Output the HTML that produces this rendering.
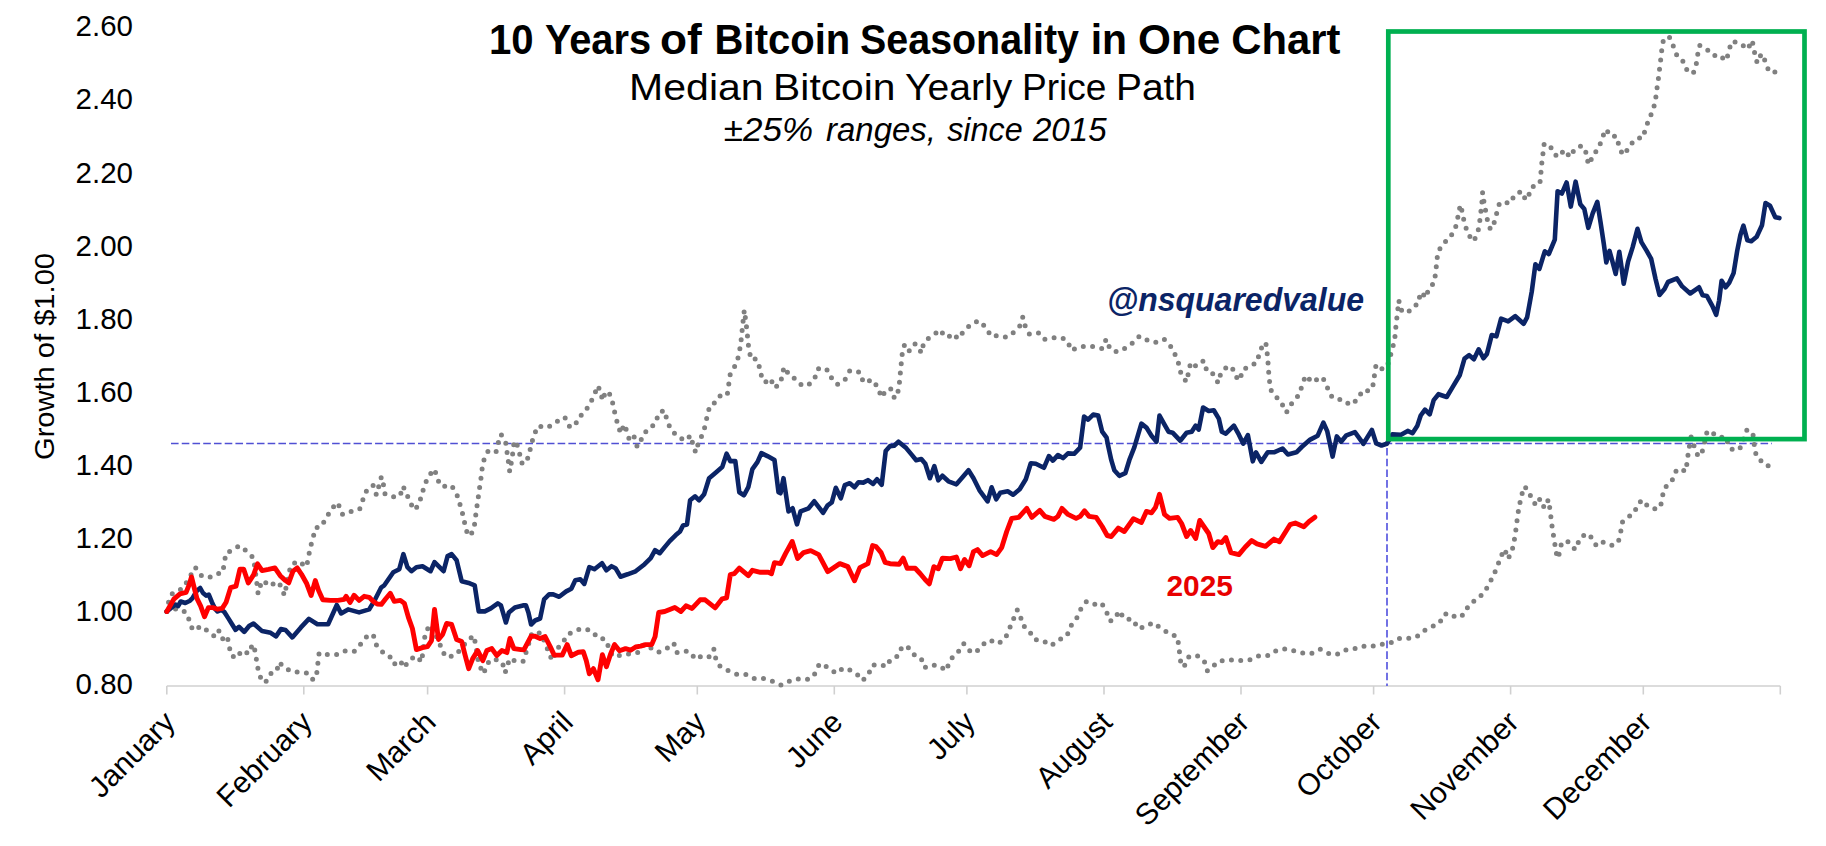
<!DOCTYPE html>
<html><head><meta charset="utf-8"><style>
html,body{margin:0;padding:0;background:#fff;width:1826px;height:846px;overflow:hidden}
svg{display:block}
text{font-family:"Liberation Sans",sans-serif;fill:#000}
.yl{font-size:29.5px}
.ml{font-size:30px}
.yt{font-size:28px}
.t1{font-size:42.5px;font-weight:bold}
.t2{font-size:37.5px}
.t3{font-size:33.5px;font-style:italic}
.t4{font-size:33px;font-weight:bold;font-style:italic;fill:#0b2466}
.t5{font-size:29px;font-weight:bold;fill:#e80000}
</style></head><body>
<svg width="1826" height="846" viewBox="0 0 1826 846">
<line x1="166.8" y1="686" x2="1780.3" y2="686" stroke="#d0d0d0" stroke-width="1.6"/>
<line x1="166.8" y1="686" x2="166.8" y2="694.5" stroke="#d0d0d0" stroke-width="1.6"/>
<line x1="303.8" y1="686" x2="303.8" y2="694.5" stroke="#d0d0d0" stroke-width="1.6"/>
<line x1="427.6" y1="686" x2="427.6" y2="694.5" stroke="#d0d0d0" stroke-width="1.6"/>
<line x1="564.6" y1="686" x2="564.6" y2="694.5" stroke="#d0d0d0" stroke-width="1.6"/>
<line x1="697.3" y1="686" x2="697.3" y2="694.5" stroke="#d0d0d0" stroke-width="1.6"/>
<line x1="834.3" y1="686" x2="834.3" y2="694.5" stroke="#d0d0d0" stroke-width="1.6"/>
<line x1="966.9" y1="686" x2="966.9" y2="694.5" stroke="#d0d0d0" stroke-width="1.6"/>
<line x1="1104.0" y1="686" x2="1104.0" y2="694.5" stroke="#d0d0d0" stroke-width="1.6"/>
<line x1="1241.0" y1="686" x2="1241.0" y2="694.5" stroke="#d0d0d0" stroke-width="1.6"/>
<line x1="1373.6" y1="686" x2="1373.6" y2="694.5" stroke="#d0d0d0" stroke-width="1.6"/>
<line x1="1510.6" y1="686" x2="1510.6" y2="694.5" stroke="#d0d0d0" stroke-width="1.6"/>
<line x1="1643.3" y1="686" x2="1643.3" y2="694.5" stroke="#d0d0d0" stroke-width="1.6"/>
<line x1="1780.3" y1="686" x2="1780.3" y2="694.5" stroke="#d0d0d0" stroke-width="1.6"/>
<text x="133" y="694.2" text-anchor="end" class="yl">0.80</text>
<text x="133" y="621.1" text-anchor="end" class="yl">1.00</text>
<text x="133" y="548.0" text-anchor="end" class="yl">1.20</text>
<text x="133" y="474.9" text-anchor="end" class="yl">1.40</text>
<text x="133" y="401.8" text-anchor="end" class="yl">1.60</text>
<text x="133" y="328.7" text-anchor="end" class="yl">1.80</text>
<text x="133" y="255.6" text-anchor="end" class="yl">2.00</text>
<text x="133" y="182.5" text-anchor="end" class="yl">2.20</text>
<text x="133" y="109.4" text-anchor="end" class="yl">2.40</text>
<text x="133" y="36.3" text-anchor="end" class="yl">2.60</text>
<text x="176.8" y="724" text-anchor="end" class="ml" transform="rotate(-45 176.8 724)">January</text>
<text x="313.8" y="724" text-anchor="end" class="ml" transform="rotate(-45 313.8 724)">February</text>
<text x="437.6" y="724" text-anchor="end" class="ml" transform="rotate(-45 437.6 724)">March</text>
<text x="574.6" y="724" text-anchor="end" class="ml" transform="rotate(-45 574.6 724)">April</text>
<text x="707.3" y="724" text-anchor="end" class="ml" transform="rotate(-45 707.3 724)">May</text>
<text x="844.3" y="724" text-anchor="end" class="ml" transform="rotate(-45 844.3 724)">June</text>
<text x="976.9" y="724" text-anchor="end" class="ml" transform="rotate(-45 976.9 724)">July</text>
<text x="1114.0" y="724" text-anchor="end" class="ml" transform="rotate(-45 1114.0 724)">August</text>
<text x="1251.0" y="724" text-anchor="end" class="ml" transform="rotate(-45 1251.0 724)">September</text>
<text x="1383.6" y="724" text-anchor="end" class="ml" transform="rotate(-45 1383.6 724)">October</text>
<text x="1520.6" y="724" text-anchor="end" class="ml" transform="rotate(-45 1520.6 724)">November</text>
<text x="1653.3" y="724" text-anchor="end" class="ml" transform="rotate(-45 1653.3 724)">December</text>
<text x="-103.5" y="0" class="yt" transform="translate(54.3 356.5) rotate(-90)" textLength="207" lengthAdjust="spacingAndGlyphs">Growth of $1.00</text>
<line x1="171" y1="443.5" x2="1772" y2="443.5" stroke="#5050d4" stroke-width="1.7" stroke-dasharray="7.6 3.14"/>
<line x1="1387" y1="448" x2="1387" y2="686" stroke="#5a5ae0" stroke-width="1.7" stroke-dasharray="7.6 3.1"/>
<polyline points="166.8,611.5 168.4,602.7 172.3,593.8 179.2,590.0 183.0,588.4 188.0,580.0 195.3,567.4 201.2,575.4 208.8,577.7 216.5,573.8 222.7,572.6 224.3,563.2 225.9,553.2 232.6,550.0 239.4,545.7 246.6,551.1 253.5,557.9 256.2,577.9 258.1,593.6 261.0,583.7 263.6,580.5 268.9,586.2 277.4,581.6 281.2,586.4 284.4,595.4 286.5,585.3 290.7,565.6 297.7,560.9 306.6,566.7 308.4,557.1 310.5,547.0 313.1,537.6 315.5,527.9 321.7,526.5 326.1,517.5 331.2,510.5 336.2,502.4 339.2,506.0 342.6,514.5 350.9,511.5 359.7,509.0 362.9,499.8 366.7,490.4 373.0,485.3 376.4,495.0 378.8,486.3 381.4,476.7 383.4,484.3 385.0,494.0 391.9,496.8 400.1,496.0 402.9,486.3 406.1,492.0 409.5,501.4 414.6,510.0 419.0,504.4 421.6,495.0 424.6,485.3 428.2,476.3 434.7,469.2 437.1,478.9 441.7,486.7 451.2,485.3 456.4,493.0 459.4,502.4 462.2,512.1 464.4,521.9 466.8,531.6 470.5,536.2 474.3,526.5 475.5,516.9 476.9,506.8 478.3,497.0 479.7,486.9 481.1,477.3 482.3,467.2 484.5,457.6 488.3,450.8 496.0,452.2 498.4,442.4 501.1,434.4 505.7,442.4 507.1,452.5 508.5,462.5 509.7,471.6 511.7,460.5 513.1,450.9 514.1,441.0 516.7,443.4 519.5,453.1 521.6,462.9 525.8,463.5 529.2,454.1 531.2,444.4 534.2,434.8 537.8,425.9 546.9,427.7 554.9,423.3 560.4,418.7 564.8,417.3 569.4,426.3 574.8,426.3 578.4,417.3 584.5,412.7 589.5,404.2 594.1,395.8 597.5,385.7 600.2,390.6 602.6,400.6 605.6,391.2 610.2,394.8 613.0,404.2 615.0,413.9 617.6,423.9 620.7,433.4 624.3,424.3 627.1,432.0 629.7,441.0 634.1,436.8 637.1,446.4 639.7,445.4 642.4,435.4 648.8,428.7 655.8,423.3 658.4,413.3 664.5,410.3 666.9,419.9 670.5,428.9 677.3,436.4 685.5,440.6 690.7,435.3 693.1,445.2 695.7,452.4 698.5,442.4 703.1,433.1 705.7,423.7 707.5,414.2 710.2,405.0 716.2,402.2 720.2,395.9 727.2,395.1 728.6,385.5 729.8,375.4 734.3,367.4 737.9,358.3 739.9,348.7 741.3,338.6 742.3,328.6 743.3,319.1 744.3,310.1 745.7,320.2 746.9,330.2 747.9,340.3 748.9,349.9 751.4,359.7 756.0,358.7 758.8,364.0 760.4,373.4 764.8,382.5 770.5,378.4 774.5,387.9 780.5,383.5 782.5,373.4 784.1,367.0 789.5,375.4 796.6,379.8 802.2,385.9 809.0,384.5 814.7,378.4 817.7,369.0 821.7,367.4 828.7,370.8 832.4,380.0 837.8,384.5 845.2,379.4 849.8,370.8 856.5,371.0 860.5,372.8 863.3,382.5 872.6,379.8 878.0,387.9 881.5,397.5 886.7,389.1 891.1,388.9 894.5,398.5 898.7,389.9 899.7,379.8 900.6,370.0 901.6,360.0 902.6,349.9 904.6,344.7 908.8,351.3 914.8,343.7 918.2,346.7 921.3,352.9 923.7,342.9 927.7,338.8 932.9,335.6 940.0,329.8 945.4,337.2 949.0,336.6 953.0,333.6 958.0,338.8 964.1,330.8 971.1,324.2 978.9,320.6 986.2,327.6 991.0,336.2 999.6,335.6 1006.7,337.2 1014.7,331.6 1020.2,325.6 1022.8,317.1 1025.4,326.8 1029.4,334.2 1039.2,332.8 1044.9,339.2 1053.9,337.8 1061.6,337.8 1067.6,340.8 1071.1,350.3 1077.5,347.8 1084.1,346.2 1093.2,346.6 1102.2,348.6 1106.2,339.2 1109.2,346.8 1113.9,351.7 1121.3,350.9 1128.7,345.6 1135.0,341.2 1139.4,336.2 1147.4,340.2 1154.9,342.6 1164.1,339.2 1171.0,346.8 1175.6,355.7 1179.0,364.7 1181.2,374.8 1186.6,381.8 1188.6,372.0 1190.7,362.3 1196.3,366.3 1203.7,360.7 1206.7,370.4 1211.4,371.6 1215.2,378.0 1218.2,383.0 1220.8,373.4 1226.8,366.9 1231.9,366.7 1235.3,376.0 1239.9,380.4 1242.3,370.7 1248.0,366.4 1256.6,363.0 1259.5,353.3 1263.1,343.8 1265.8,342.6 1267.1,352.3 1268.0,362.2 1268.7,372.2 1269.7,382.2 1271.5,391.9 1276.9,397.6 1281.8,403.7 1286.4,412.5 1290.0,405.6 1294.6,399.9 1299.2,394.5 1302.2,385.0 1305.6,375.6 1312.5,382.5 1316.9,379.5 1322.5,377.1 1326.8,386.1 1330.4,395.3 1336.5,399.6 1343.0,399.4 1350.2,405.0 1358.0,399.1 1362.5,390.2 1369.9,391.1 1373.0,385.0 1374.5,375.0 1376.0,365.0 1379.9,369.2 1386.8,367.6 1389.9,357.6 1392.6,348.1 1394.8,338.4 1395.7,328.4 1396.8,318.4 1397.9,308.8 1398.8,300.5 1401.1,310.0 1407.5,313.1 1412.9,306.3 1417.9,304.4 1420.3,293.7 1421.9,292.1 1425.5,297.8 1429.0,288.5 1434.4,282.4 1435.6,272.5 1436.8,262.3 1437.7,252.7 1442.5,244.4 1449.6,237.8 1455.0,229.5 1457.4,220.0 1459.0,210.1 1460.9,204.7 1462.6,214.8 1464.9,224.3 1468.0,234.2 1473.7,241.3 1477.9,232.1 1479.6,222.4 1480.8,212.5 1481.9,202.6 1482.6,192.4 1483.8,200.7 1485.5,210.1 1487.4,220.0 1490.4,229.5 1493.8,223.8 1496.4,214.4 1498.7,204.9 1502.7,201.4 1509.8,203.5 1515.0,194.3 1521.7,191.2 1525.7,200.0 1528.7,195.2 1531.8,187.0 1539.9,183.6 1540.8,174.2 1541.7,164.0 1542.9,154.1 1544.1,144.4 1549.6,144.4 1553.6,153.9 1559.0,156.9 1564.2,149.8 1570.1,156.9 1574.8,148.7 1581.9,145.6 1585.5,150.5 1587.4,160.5 1589.5,164.7 1592.6,155.3 1599.0,148.2 1601.8,138.5 1606.2,129.3 1610.6,136.3 1616.5,136.2 1619.0,145.9 1622.7,155.0 1627.8,149.6 1633.3,141.1 1639.0,137.9 1642.9,137.9 1645.6,128.2 1649.3,118.6 1653.2,109.8 1655.5,100.0 1656.7,90.2 1658.2,80.3 1659.4,70.2 1660.6,60.5 1661.7,50.7 1663.3,40.6 1669.1,36.5 1673.0,45.4 1676.6,54.8 1682.1,59.2 1685.6,68.8 1693.1,73.8 1696.1,65.2 1697.5,55.5 1699.6,45.4 1705.9,49.8 1710.8,50.7 1714.9,55.5 1719.7,54.8 1723.6,59.0 1726.4,60.5 1728.9,50.4 1731.7,41.3 1740.1,43.1 1747.7,49.3 1752.1,40.4 1753.9,48.4 1755.5,58.2 1757.4,62.8 1761.3,53.7 1765.8,62.2 1769.0,72.0 1777.3,72.0" fill="none" stroke="#808080" stroke-width="5" stroke-linecap="round" stroke-linejoin="round" stroke-dasharray="0 9.3"/>
<polyline points="166.8,611.5 173.5,608.8 181.5,609.5 187.3,613.8 190.0,623.4 193.0,630.4 201.5,626.1 209.2,632.2 214.2,636.0 218.4,629.9 222.2,639.1 227.1,635.7 229.1,645.6 231.0,655.2 236.3,658.3 242.2,650.3 248.8,653.7 252.6,644.2 254.9,650.3 256.5,660.2 258.2,670.0 261.1,679.1 265.3,682.8 270.6,673.6 276.6,671.5 279.1,662.1 283.8,667.2 291.9,671.9 301.5,672.3 307.9,673.2 313.2,680.0 316.8,672.8 317.9,663.0 319.1,653.0 327.4,654.5 337.0,654.6 346.0,650.6 354.5,651.2 361.2,643.6 367.2,636.1 373.2,634.5 375.8,644.2 381.3,651.2 389.3,655.6 393.9,664.3 400.0,660.3 404.0,667.7 409.4,659.6 416.8,656.2 421.5,662.1 422.9,652.2 424.1,641.6 425.5,632.1 430.5,624.5 439.5,642.6 442.2,651.6 447.6,657.6 456.2,654.6 466.7,641.6 473.7,635.5 475.7,644.6 478.7,664.3 483.8,673.7 486.8,663.7 493.8,658.6 502.5,662.7 504.9,672.7 506.9,668.7 509.3,658.6 517.3,661.7 523.4,661.1 526.6,650.6 532.1,632.6 541.1,633.2 552.2,660.7 557.2,649.0 562.6,642.6 568.2,634.2 575.9,630.2 583.9,628.5 592.4,631.2 598.0,638.2 604.8,639.0 609.0,647.6 612.5,656.3 624.5,654.7 638.2,652.3 644.2,644.0 658.3,652.3 667.1,648.2 673.8,643.0 676.8,652.7 683.2,651.1 689.8,651.7 695.5,659.3 703.0,655.2 709.5,656.9 714.0,649.0 715.9,659.2 720.0,666.2 728.4,670.8 737.5,674.5 746.3,674.5 754.5,678.6 764.1,678.6 773.4,681.5 781.3,685.1 790.0,681.0 799.4,678.6 808.8,679.4 815.5,673.1 819.4,663.8 828.1,667.4 836.0,673.3 843.4,667.9 849.0,669.5 856.9,674.0 862.6,680.5 868.4,674.5 872.2,665.1 880.7,664.6 886.5,666.6 890.6,659.2 898.3,655.9 902.1,646.5 907.5,646.5 913.6,654.4 921.0,658.0 924.7,667.6 931.3,664.9 939.9,665.9 946.1,670.7 949.4,662.1 953.5,655.6 958.4,651.5 963.7,643.6 968.3,650.1 975.5,652.8 981.7,645.4 989.5,640.0 998.5,643.7 1005.6,637.6 1009.5,628.5 1013.4,619.3 1017.3,609.9 1020.2,614.7 1022.2,624.5 1029.3,631.1 1034.5,639.6 1042.7,640.5 1051.1,645.7 1058.5,640.2 1067.0,635.7 1070.6,626.2 1076.5,618.6 1080.6,609.5 1086.5,601.5 1093.6,604.4 1101.4,602.8 1106.4,611.5 1109.9,621.0 1114.2,619.4 1119.4,610.8 1124.2,619.0 1133.4,619.7 1137.6,628.4 1146.7,626.4 1152.8,622.5 1161.0,628.1 1169.2,633.6 1177.5,636.8 1178.8,646.7 1180.1,656.7 1181.2,666.5 1184.7,665.4 1189.0,656.5 1197.2,655.8 1204.3,661.3 1207.2,670.8 1210.8,669.1 1217.3,661.7 1223.8,660.4 1231.9,660.0 1241.4,660.6 1250.7,659.6 1259.3,655.7 1269.1,655.4 1276.5,650.5 1286.5,648.7 1296.0,651.3 1305.5,653.7 1312.5,653.1 1320.3,649.3 1329.1,653.7 1336.3,654.8 1344.7,650.2 1354.5,648.7 1362.3,646.1 1370.8,646.6 1379.9,644.4 1389.6,643.5 1397.9,638.5 1407.3,638.5 1416.5,636.9 1423.0,631.3 1430.9,627.2 1439.4,623.2 1444.4,614.2 1449.5,613.1 1456.3,617.8 1464.1,614.4 1468.6,605.4 1476.0,599.6 1483.9,593.1 1488.8,584.6 1493.3,575.6 1497.4,566.6 1500.5,556.9 1505.0,549.1 1507.5,558.7 1510.8,554.7 1513.5,545.2 1515.1,535.1 1516.5,525.5 1517.6,515.6 1519.4,505.5 1521.4,495.8 1524.3,486.4 1528.8,490.9 1532.0,500.3 1536.5,505.5 1540.0,498.8 1544.3,507.7 1548.4,499.6 1549.9,508.9 1551.1,518.7 1552.4,528.9 1554.0,538.5 1555.5,548.2 1557.3,558.3 1558.9,554.9 1561.2,544.8 1566.8,540.3 1573.1,547.9 1576.4,549.3 1579.1,539.6 1586.1,533.3 1591.5,537.4 1596.6,546.2 1603.3,542.1 1612.5,545.6 1618.4,541.6 1620.7,532.0 1622.4,522.1 1628.7,516.7 1634.3,512.8 1637.9,503.6 1642.8,500.1 1648.2,507.0 1656.5,509.3 1660.6,506.6 1662.2,496.9 1665.0,487.5 1671.9,480.9 1675.5,471.5 1679.9,468.2 1685.7,471.5 1687.2,461.8 1688.4,451.7 1691.1,437.0 1694.3,446.7 1698.2,456.5 1701.7,453.4 1704.4,444.0 1706.1,433.9 1708.8,430.4 1719.1,437.5 1726.2,437.0 1728.8,446.7 1733.6,450.2 1739.8,448.7 1746.9,430.0 1752.8,432.7 1754.0,442.8 1755.4,452.6 1758.1,459.3 1763.4,461.8 1767.0,465.9 1774.4,465.5" fill="none" stroke="#808080" stroke-width="5" stroke-linecap="round" stroke-linejoin="round" stroke-dasharray="0 9.3"/>
<polyline points="166.8,611.5 175.4,604.5 178.1,606.1 180.7,601.5 185.3,603.0 190.0,600.7 192.3,598.4 196.9,590.7 200.2,588.0 203.0,593.0 206.1,595.6 208.8,594.6 211.9,602.2 215.3,609.2 217.6,611.5 221.4,609.9 224.5,612.2 228.4,618.4 232.2,624.5 235.6,629.9 239.1,626.8 244.2,631.9 249.1,626.1 253.5,623.5 262.1,631.1 270.6,632.8 276.0,636.4 280.9,629.1 285.5,630.0 292.3,637.4 300.9,627.4 308.9,618.9 317.4,624.3 328.1,624.3 336.8,605.0 341.1,613.4 348.1,609.4 359.1,612.4 369.2,609.4 375.2,599.3 381.3,587.3 384.3,585.3 393.3,572.2 399.3,569.2 403.4,554.1 407.4,567.2 411.4,571.2 416.4,567.2 422.5,566.2 430.5,571.2 434.5,562.2 439.5,567.2 443.6,571.2 447.6,556.1 451.6,554.1 456.6,560.2 461.7,581.3 469.7,583.3 474.7,585.3 478.7,611.4 484.8,611.4 490.8,608.4 497.8,603.4 500.9,605.4 505.9,622.5 508.9,612.4 514.9,607.4 523.0,605.4 526.0,605.4 528.4,612.5 531.1,624.5 535.1,620.5 540.1,618.5 544.1,599.4 549.1,594.4 553.2,594.4 559.2,596.8 566.2,591.4 571.3,588.7 575.3,580.3 580.3,579.3 584.3,583.9 589.3,567.2 594.4,569.2 602.0,563.2 606.4,570.3 611.5,566.2 615.5,568.2 620.5,576.7 627.5,574.3 635.6,571.3 644.6,564.2 650.7,558.2 655.1,550.2 659.7,553.2 664.7,547.1 669.7,541.1 675.8,535.1 680.0,531.5 683.0,525.4 687.0,524.4 690.1,500.3 695.1,496.3 699.1,500.3 704.1,494.3 709.1,478.2 716.2,472.2 722.2,467.1 726.6,453.7 730.3,461.1 735.3,461.1 739.3,492.3 743.9,495.3 748.3,487.2 752.4,469.1 757.4,462.1 761.4,453.1 767.4,456.1 774.5,460.1 778.5,492.3 780.5,493.3 783.5,478.2 788.5,511.4 792.6,508.3 797.0,524.4 800.6,511.4 808.6,508.3 814.3,501.3 823.1,512.8 827.7,505.3 831.8,502.3 835.8,487.8 840.8,498.3 844.8,485.2 849.8,483.2 854.5,487.2 858.5,482.2 863.3,482.6 867.9,480.2 873.0,483.9 877.0,479.2 881.7,484.7 885.7,451.1 890.1,446.1 894.1,445.7 898.5,441.7 906.2,448.1 911.2,454.1 916.2,460.2 921.3,459.1 925.3,463.8 929.9,478.2 934.3,466.2 938.3,480.3 942.4,475.8 948.4,481.3 956.4,484.3 962.5,477.2 968.5,470.2 973.5,478.2 979.5,490.3 987.6,501.4 991.6,487.3 996.2,499.3 1000.3,492.7 1007.7,491.3 1013.1,494.7 1019.7,489.3 1025.8,479.2 1030.8,463.2 1035.8,463.8 1043.9,467.8 1048.9,456.1 1052.9,460.6 1057.9,455.1 1063.0,458.1 1068.0,453.4 1074.1,453.8 1080.1,447.7 1084.1,416.6 1088.1,419.6 1093.2,414.6 1098.2,415.6 1102.2,431.7 1106.6,437.7 1108.2,446.1 1111.3,460.2 1114.3,470.2 1119.3,475.8 1125.3,473.2 1129.3,460.2 1134.4,447.1 1141.4,423.6 1146.4,427.6 1151.5,435.7 1156.5,441.7 1159.5,415.6 1164.5,424.6 1168.5,431.7 1172.6,432.7 1180.2,440.7 1186.6,432.7 1191.7,431.7 1195.7,425.6 1198.7,429.6 1203.1,407.5 1208.7,411.0 1213.8,410.2 1218.8,418.6 1221.8,431.7 1225.8,433.7 1233.9,425.6 1238.9,434.7 1243.3,443.7 1247.9,435.1 1252.8,461.3 1256.0,452.3 1261.3,461.9 1267.7,452.3 1274.0,452.3 1282.6,448.5 1287.9,454.5 1296.4,452.3 1301.7,447.0 1310.2,439.6 1317.7,435.7 1323.4,422.6 1327.2,431.1 1332.6,456.6 1336.8,436.4 1341.1,441.7 1346.4,435.3 1354.9,432.1 1363.4,443.8 1371.9,430.0 1376.2,443.4 1381.5,445.5 1386.8,443.8 1392.4,434.4 1400.6,434.9 1407.7,430.9 1412.5,433.2 1417.2,426.1 1420.7,415.5 1425.0,409.6 1429.7,414.3 1433.7,400.1 1438.5,394.2 1446.7,397.0 1452.6,387.1 1459.7,375.3 1464.5,358.7 1469.2,355.2 1473.9,359.2 1478.7,349.3 1483.4,358.3 1486.9,354.0 1491.7,335.1 1496.4,336.3 1501.1,318.6 1508.2,321.4 1515.3,316.2 1523.6,323.8 1527.1,317.4 1531.8,291.4 1535.4,264.2 1539.4,268.9 1544.8,251.3 1548.8,254.0 1554.8,239.7 1557.6,191.2 1561.8,193.6 1566.6,182.5 1570.8,206.6 1575.6,181.7 1580.3,204.2 1584.3,208.9 1588.3,227.8 1592.6,213.7 1597.3,201.8 1600.6,222.6 1603.8,243.8 1606.3,262.4 1609.5,250.9 1612.2,260.7 1615.7,274.0 1619.3,251.8 1621.0,263.3 1623.7,283.7 1628.1,261.6 1632.6,247.4 1637.5,228.8 1641.4,242.1 1646.7,250.9 1651.2,258.9 1655.6,279.3 1659.5,294.9 1664.5,289.0 1668.0,282.0 1676.9,278.4 1682.2,286.4 1690.2,293.5 1699.0,287.3 1702.6,295.2 1707.0,296.1 1712.3,305.9 1716.2,314.8 1719.1,300.6 1721.6,280.7 1725.6,287.3 1729.2,282.8 1733.6,273.1 1737.2,250.9 1740.4,235.0 1743.4,225.7 1747.4,240.3 1751.3,241.2 1756.7,236.7 1762.0,225.2 1765.5,203.0 1770.0,205.7 1775.3,217.2 1779.4,218.1" fill="none" stroke="#0b2466" stroke-width="4.6" stroke-linejoin="round" stroke-linecap="round"/>
<polyline points="166.8,611.5 173.8,599.2 180.0,593.8 186.1,592.3 189.2,584.6 191.5,576.9 193.8,586.1 196.9,598.4 200.7,606.1 204.5,616.8 208.4,607.6 213.0,607.6 217.6,609.2 222.2,608.4 226.1,602.2 230.7,587.6 236.0,586.1 239.9,569.2 243.7,569.2 248.3,583.0 253.7,574.6 257.5,563.8 262.1,570.6 268.5,569.4 274.9,567.9 280.2,575.7 285.5,580.6 288.7,582.8 293.0,571.1 297.2,567.9 301.5,574.3 306.8,583.8 311.1,595.5 315.3,580.6 318.5,590.2 322.8,599.8 330.2,600.4 338.0,600.4 344.1,599.3 346.1,596.3 350.1,602.4 354.1,595.3 359.1,600.4 364.2,596.3 369.2,597.3 373.2,601.4 377.2,604.0 381.3,604.4 385.3,599.3 390.3,593.3 394.3,601.4 400.4,600.4 404.4,603.4 408.4,617.4 412.4,628.5 416.4,649.6 422.5,647.6 427.5,646.6 431.5,640.6 434.5,609.4 438.5,639.5 442.6,634.5 446.6,623.5 451.6,624.5 456.6,639.5 461.7,641.6 464.7,653.6 468.7,668.7 472.7,658.6 477.7,650.6 482.8,660.7 486.8,650.6 491.8,648.6 496.8,655.6 501.9,650.6 506.9,652.6 509.9,638.5 513.9,648.6 521.0,649.6 524.0,649.7 531.1,636.2 535.1,636.2 540.1,638.6 545.1,636.6 550.2,646.6 554.2,655.1 562.2,655.1 567.2,644.6 571.3,655.7 578.3,652.3 583.3,651.7 586.3,660.7 589.3,673.8 593.4,668.7 598.0,679.8 602.4,654.7 606.4,666.7 610.5,654.3 614.5,644.6 619.5,650.7 625.5,648.6 630.6,650.2 635.6,647.0 640.6,646.2 645.6,644.6 651.7,644.6 655.1,636.6 658.7,612.5 664.7,611.5 674.8,607.4 680.8,611.5 686.0,605.8 692.1,608.4 700.1,599.8 705.1,599.8 715.2,607.8 722.2,598.8 726.6,597.8 730.3,574.7 734.3,573.7 739.3,568.2 748.3,575.7 752.4,570.3 760.4,572.3 768.4,572.3 771.5,573.7 774.5,562.6 780.5,563.6 785.5,553.6 792.2,541.5 797.6,558.6 803.6,552.6 810.7,550.6 818.7,554.6 827.7,571.7 839.8,563.6 847.8,566.6 854.5,580.7 859.9,567.6 867.9,563.6 872.6,545.5 876.0,546.5 881.1,552.6 885.1,562.3 890.1,563.7 899.1,564.3 903.2,558.2 907.2,568.3 915.2,568.3 920.3,573.7 925.3,579.7 929.3,583.8 933.9,566.7 938.3,568.7 942.4,558.2 950.4,558.6 956.4,557.0 960.5,568.7 964.5,559.6 969.1,565.7 973.5,551.6 977.5,549.6 982.6,555.6 990.6,551.6 996.6,554.6 1001.7,547.6 1006.7,531.5 1011.7,518.4 1018.7,517.4 1026.8,508.4 1031.8,517.4 1039.8,510.4 1044.9,516.4 1053.9,519.4 1057.9,516.4 1062.0,508.4 1068.0,514.4 1076.1,518.4 1080.1,516.4 1084.5,510.8 1089.1,516.4 1096.2,517.4 1102.2,526.5 1107.2,535.5 1111.3,536.5 1118.3,528.1 1124.3,531.5 1133.4,518.8 1141.4,522.5 1146.4,511.4 1151.5,512.8 1155.5,507.4 1159.5,494.3 1164.5,514.4 1169.5,518.4 1177.6,517.4 1181.6,523.5 1186.6,536.5 1190.7,530.5 1195.7,538.5 1199.7,520.5 1208.7,533.5 1212.8,547.6 1217.8,541.6 1221.8,542.6 1225.8,537.5 1230.9,552.6 1238.9,554.6 1245.3,547.0 1251.7,540.6 1257.0,543.8 1265.5,546.4 1274.0,539.1 1279.4,541.7 1290.0,524.7 1295.3,523.0 1303.8,526.8 1309.1,521.5 1314.9,517.2" fill="none" stroke="#ff0000" stroke-width="4.9" stroke-linejoin="round" stroke-linecap="round"/>
<text x="489.01" y="54.2" class="t1" textLength="44.63" lengthAdjust="spacingAndGlyphs">10</text>
<text x="544.9" y="54.2" class="t1" textLength="106.23" lengthAdjust="spacingAndGlyphs">Years</text>
<text x="660.06" y="54.2" class="t1" textLength="41.76" lengthAdjust="spacingAndGlyphs">of</text>
<text x="714.62" y="54.2" class="t1" textLength="135.63" lengthAdjust="spacingAndGlyphs">Bitcoin</text>
<text x="860.07" y="54.2" class="t1" textLength="218.89" lengthAdjust="spacingAndGlyphs">Seasonality</text>
<text x="1090.68" y="54.2" class="t1" textLength="36.31" lengthAdjust="spacingAndGlyphs">in</text>
<text x="1138.11" y="54.2" class="t1" textLength="82.23" lengthAdjust="spacingAndGlyphs">One</text>
<text x="1231.32" y="54.2" class="t1" textLength="109.03" lengthAdjust="spacingAndGlyphs">Chart</text>
<text x="629.12" y="99.8" class="t2" textLength="134.51" lengthAdjust="spacingAndGlyphs">Median</text>
<text x="773.14" y="99.8" class="t2" textLength="122.38" lengthAdjust="spacingAndGlyphs">Bitcoin</text>
<text x="905.1" y="99.8" class="t2" textLength="107.24" lengthAdjust="spacingAndGlyphs">Yearly</text>
<text x="1021.93" y="99.8" class="t2" textLength="84.51" lengthAdjust="spacingAndGlyphs">Price</text>
<text x="1115.99" y="99.8" class="t2" textLength="80.04" lengthAdjust="spacingAndGlyphs">Path</text>
<text x="723.76" y="141.3" class="t3" textLength="89.27" lengthAdjust="spacingAndGlyphs">±25%</text>
<text x="826.0" y="141.3" class="t3" textLength="109.95" lengthAdjust="spacingAndGlyphs">ranges,</text>
<text x="947.2" y="141.3" class="t3" textLength="75.51" lengthAdjust="spacingAndGlyphs">since</text>
<text x="1032.99" y="141.3" class="t3" textLength="73.55" lengthAdjust="spacingAndGlyphs">2015</text>
<text x="1107" y="310.7" class="t4" textLength="257" lengthAdjust="spacingAndGlyphs">@nsquaredvalue</text>
<text x="1166.5" y="595.8" class="t5" textLength="66.5" lengthAdjust="spacingAndGlyphs">2025</text>
<rect x="1388.3" y="31.5" width="416.2" height="407.6" fill="none" stroke="#00b050" stroke-width="4.7"/>
</svg>
</body></html>
